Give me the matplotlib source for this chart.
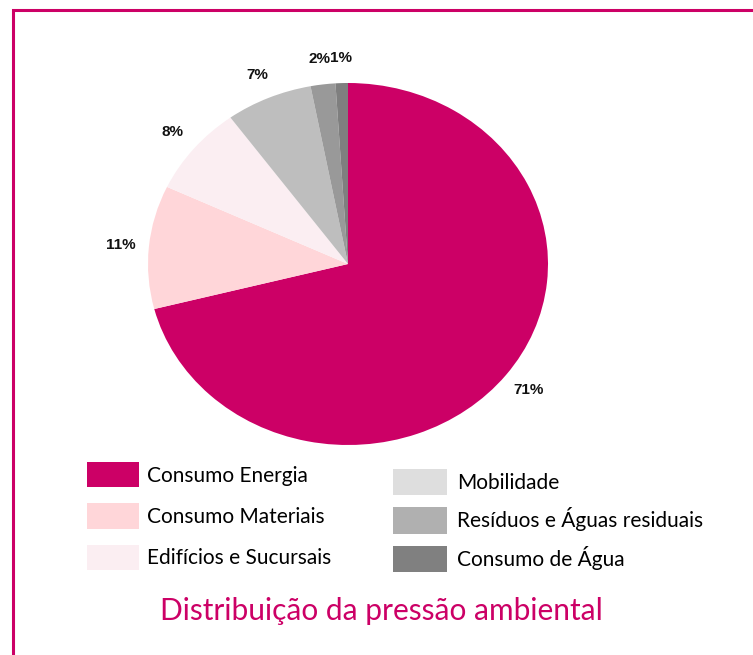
import matplotlib
matplotlib.use("Agg")
import matplotlib.pyplot as plt
from matplotlib.patches import Rectangle, Patch

categories = ["Consumo Energia", "Consumo Materiais", "Edifícios e Sucursais",
              "Mobilidade", "Resíduos e Águas residuais", "Consumo de Água"]
values = [71, 11, 8, 7, 2, 1]
pie_colors = ["#CC0066", "#FFD6D9", "#FBEEF2", "#BEBEBE", "#999999", "#7F7F7F"]
legend_colors = ["#CC0066", "#FFD6D9", "#FBEEF2", "#DEDEDE", "#B0B0B0", "#808080"]
title = "Distribuição da pressão ambiental"
MAGENTA = "#CC0066"

W, H = 753, 655
fig = plt.figure(figsize=(W / 100, H / 100), dpi=100)

# pie axes: x -1..1 -> px 148..548 ; y -1..1 -> px 445..83
ax = fig.add_axes([148 / W, (H - 445) / H, 400 / W, 362 / H])
wedges, texts, autotexts = ax.pie(
    values, colors=pie_colors, startangle=90, counterclock=False,
    autopct=lambda p: f"{p:.0f}%", pctdistance=1.14,
    wedgeprops=dict(linewidth=0),
    textprops=dict(fontsize=11, fontweight="bold", family="Liberation Sans", color="#111111"))
ax.set_aspect("auto")
ax.set_xlim(-1, 1)
ax.set_ylim(-1, 1)
ax.axis("off")

font = "Lato"
fs = 15
px = fs * 100 / 72
scale = 25 / 20  # handle patch height correction

h1 = [Patch(facecolor=c, edgecolor="none") for c in legend_colors[:3]]
h2 = [Patch(facecolor=c, edgecolor="none") for c in legend_colors[3:]]

leg1 = fig.legend(h1, categories[:3], loc="upper left",
                  bbox_to_anchor=(87 / W, 1 - 462 / H), borderpad=0, borderaxespad=0,
                  frameon=False, handlelength=52 / px, handleheight=25 * scale / px,
                  labelspacing=(41 - 25) / px, handletextpad=8 / px,
                  prop=dict(family=font, size=fs))
leg2 = fig.legend(h2, categories[3:], loc="upper left",
                  bbox_to_anchor=(393 / W, 1 - 469 / H), borderpad=0, borderaxespad=0,
                  frameon=False, handlelength=54 / px, handleheight=26 * scale / px,
                  labelspacing=(38 - 26) / px, handletextpad=10 / px,
                  prop=dict(family=font, size=fs))

fig.text(381 / W, 1 - 611 / H, title, ha="center", va="center",
         color=MAGENTA, fontsize=21.5, family=font)

fig.patches.append(Rectangle((12.5 / W, -0.2), 2, (H - 10.5) / H + 0.2,
                             transform=fig.transFigure, fill=False,
                             edgecolor=MAGENTA, linewidth=2.2))

fig.savefig("out.png", dpi=100)
